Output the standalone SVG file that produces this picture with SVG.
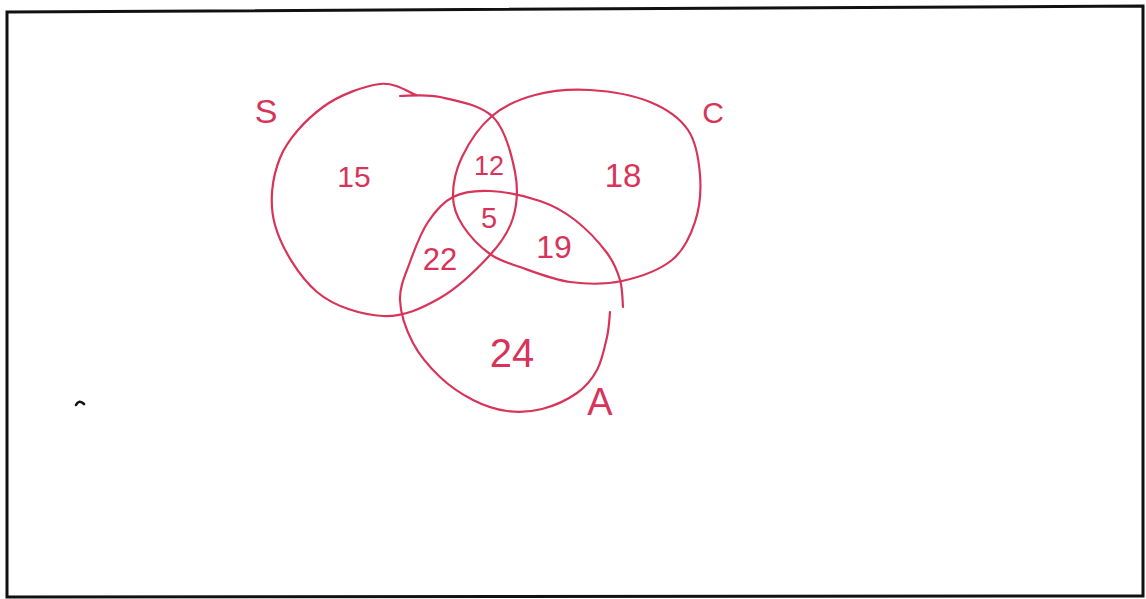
<svg xmlns="http://www.w3.org/2000/svg" width="1146" height="599" viewBox="0 0 1146 599">
<style>
.set{fill:none;stroke:#d8345a;stroke-width:2.2;stroke-linecap:round;stroke-linejoin:round}
.lbl{font-family:"Liberation Sans",Arial,sans-serif;fill:#d8345a;text-anchor:middle}
.num{font-family:"Liberation Sans",Arial,sans-serif;fill:#d8345a;text-anchor:middle}
</style>
<rect x="0" y="0" width="1146" height="599" fill="#ffffff"/>
<polygon points="7,12 1143,6 1143,596 7,597" fill="#ffffff" stroke="#111111" stroke-width="3"/>
<path d="M76,405 Q79,399 84,404" fill="none" stroke="#111111" stroke-width="2.6" stroke-linecap="round"/>
<g id="set-S">
<path class="set" d="M400,96 C406.7,96.2 424.5,93.5 440,97 C455.5,100.5 480.5,104.5 493,117 C505.5,129.5 511.7,155.2 515,172 C518.3,188.8 517.2,204.2 513,218 C508.8,231.8 502.2,241.7 490,255 C477.8,268.3 457.8,287.8 440,298 C422.2,308.2 403.5,317 383,316 C362.5,315 335,307.2 317,292 C299,276.8 281.2,247.3 275,225 C268.8,202.7 272,177.7 280,158 C288,138.3 306.3,119.3 323,107 C339.7,94.7 364.5,86 380,84 C395.5,82 410,93.2 416,95"/>
<text class="lbl" x="266" y="123" font-size="34">S</text>
</g>
<g id="set-C">
<path class="set" d="M453,197 C452.8,185.5 455.5,170.5 462,157 C468.5,143.5 479.8,126.3 492,116 C504.2,105.7 518.7,99.3 535,95 C551.3,90.7 570.8,88.8 590,90 C609.2,91.2 633.7,95.3 650,102 C666.3,108.7 679.7,117.8 688,130 C696.3,142.2 698.8,159.7 700,175 C701.2,190.3 699.7,207.8 695,222 C690.3,236.2 684.2,250.2 672,260 C659.8,269.8 639,277.3 622,281 C605,284.7 587,284.3 570,282 C553,279.7 533.3,271.7 520,267 C506.7,262.3 499.5,260.8 490,254 C480.5,247.2 469.2,235.5 463,226 C456.8,216.5 453.2,208.5 453,197 Z"/>
<text class="lbl" x="713" y="123" font-size="30">C</text>
</g>
<g id="set-A">
<path class="set" d="M623,307 C622.5,302.5 622.7,289 620,280 C617.3,271 614.5,263 607,253 C599.5,243 586.2,228.7 575,220 C563.8,211.3 554.2,205.8 540,201 C525.8,196.2 504.5,191.7 490,191 C475.5,190.3 463.3,191.8 453,197 C442.7,202.2 435.2,211.2 428,222 C420.8,232.8 414.7,249 410,262 C405.3,275 399.5,286.5 400,300 C400.5,313.5 406.3,330.2 413,343 C419.7,355.8 430,367.5 440,377 C450,386.5 461.8,394.3 473,400 C484.2,405.7 495.5,409.5 507,411 C518.5,412.5 530.3,412 542,409 C553.7,406 567.8,399.5 577,393 C586.2,386.5 592,379.3 597,370 C602,360.7 604.8,346.7 607,337 C609.2,327.3 609.5,316.2 610,312"/>
<text class="lbl" x="600" y="415" font-size="38">A</text>
</g>
<g id="regions">
<text class="num" x="354" y="187" font-size="30">15</text>
<text class="num" x="489" y="175" font-size="27">12</text>
<text class="num" x="623" y="187" font-size="33">18</text>
<text class="num" x="489" y="228" font-size="29">5</text>
<text class="num" x="440" y="270" font-size="31">22</text>
<text class="num" x="554" y="258" font-size="32">19</text>
<text class="num" x="512" y="367" font-size="40">24</text>
</g>
</svg>
